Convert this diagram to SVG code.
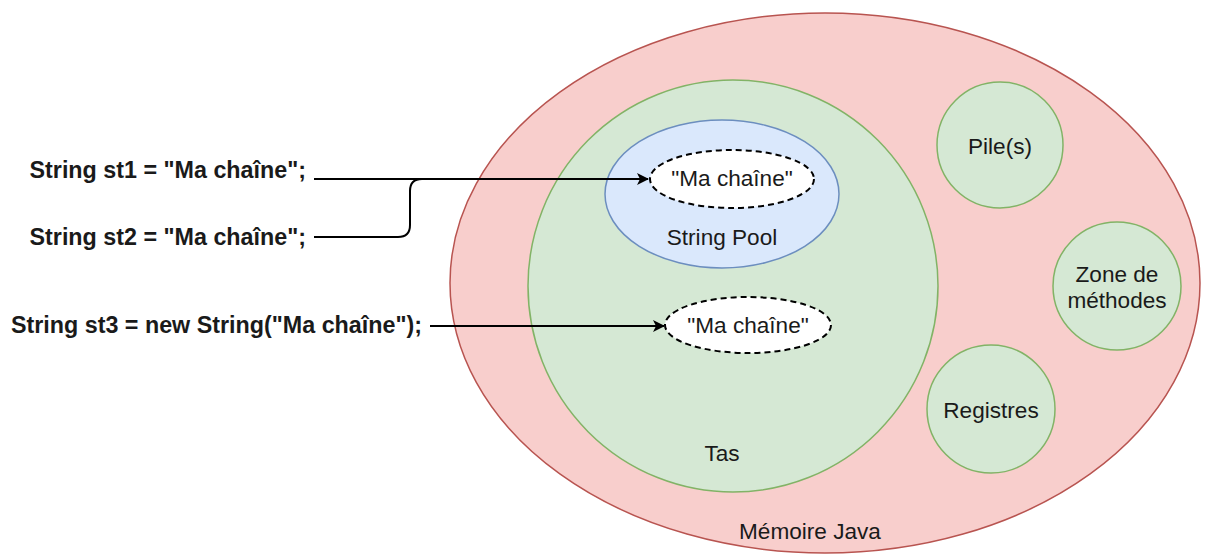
<svg xmlns="http://www.w3.org/2000/svg" width="1206" height="555" viewBox="0 0 1206 555">
  <style>
    .red { fill: #f8cecc; stroke: #b85450; stroke-width: 1.5; }
    .green { fill: #d5e8d4; stroke: #82b366; stroke-width: 1.5; }
    .blue { fill: #dae8fc; stroke: #6c8ebf; stroke-width: 1.5; }
    .dashed { fill: #ffffff; stroke: #000000; stroke-width: 2; stroke-dasharray: 6 4; }
    .lbl { font-family: "Liberation Sans", Arial, sans-serif; font-size: 22.6px; fill: #1a1a1a; text-anchor: middle; }
    .code { font-family: "Liberation Sans", Arial, sans-serif; font-size: 23.3px; font-weight: bold; fill: #1a1a1a; text-anchor: end; }
    .conn { fill: none; stroke: #000000; stroke-width: 2; }
  </style>
  <defs>
    <marker id="arrow" viewBox="0 0 12 12" refX="11" refY="6" markerWidth="12" markerHeight="12" markerUnits="userSpaceOnUse" orient="auto">
      <path d="M0,0 L12,6 L0,12 L3,6 Z" fill="#000000"/>
    </marker>
  </defs>

  <rect width="1206" height="555" fill="#ffffff"/>

  <g id="memoire-java">
    <ellipse class="red" cx="825" cy="283" rx="375" ry="270"/>
    <text class="lbl" x="810" y="539">Mémoire Java</text>
  </g>

  <g id="tas">
    <ellipse class="green" cx="733" cy="286" rx="205" ry="206"/>
    <text class="lbl" x="722" y="461">Tas</text>
  </g>

  <g id="string-pool">
    <ellipse class="blue" cx="722" cy="194" rx="117" ry="74"/>
    <text class="lbl" x="722" y="245">String Pool</text>
  </g>

  <g id="pool-literal">
    <ellipse class="dashed" cx="732" cy="179" rx="82" ry="29"/>
    <text class="lbl" x="732" y="186">"Ma chaîne"</text>
  </g>

  <g id="heap-object">
    <ellipse class="dashed" cx="748" cy="325" rx="83" ry="28"/>
    <text class="lbl" x="748" y="333">"Ma chaîne"</text>
  </g>

  <g id="piles">
    <circle class="green" cx="1000" cy="145" r="63"/>
    <text class="lbl" x="1000" y="154">Pile(s)</text>
  </g>

  <g id="zone-methodes">
    <circle class="green" cx="1117" cy="286" r="64"/>
    <text class="lbl" x="1117" y="282">Zone de</text>
    <text class="lbl" x="1117" y="308">méthodes</text>
  </g>

  <g id="registres">
    <circle class="green" cx="991" cy="409" r="64"/>
    <text class="lbl" x="991" y="418">Registres</text>
  </g>

  <g id="st1">
    <text class="code" x="306" y="178">String st1 = "Ma chaîne";</text>
  </g>
  <g id="st2">
    <text class="code" x="306" y="245">String st2 = "Ma chaîne";</text>
  </g>
  <g id="st3">
    <text class="code" x="422" y="333">String st3 = new String("Ma chaîne");</text>
  </g>

  <g id="connectors">
    <path class="conn" d="M314,179 L648,179" marker-end="url(#arrow)"/>
    <path class="conn" d="M314,237 L398,237 Q410,237 410,225 L410,191 Q410,179 422,179 L430,179"/>
    <path class="conn" d="M430,326 L664,326" marker-end="url(#arrow)"/>
  </g>
</svg>
